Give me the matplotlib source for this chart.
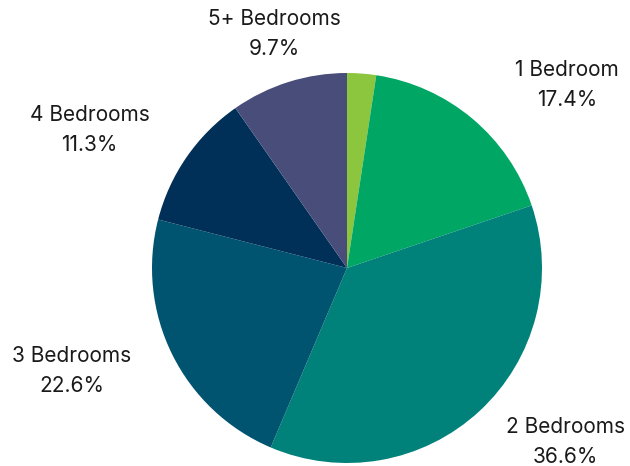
import matplotlib
matplotlib.use('Agg')
import matplotlib.pyplot as plt

# bedroom mix shares (%), first slice is the unlabelled studio share
categories = ['Studio', '1 Bedroom', '2 Bedrooms', '3 Bedrooms', '4 Bedrooms', '5+ Bedrooms']
shares = [2.4, 17.4, 36.6, 22.6, 11.3, 9.7]
show_label = [False, True, True, True, True, True]

colors = ['#8cc63f', '#00a664', '#00827a', '#005470', '#003057', '#484d7a']
# label centres, in units of the pie radius
label_pos = [None, (1.13, 0.94), (1.12, -0.89), (-1.41, -0.53), (-1.32, 0.71), (-0.37, 1.20)]

plt.rcParams['font.family'] = ['Inter', 'DejaVu Sans']

fig = plt.figure(figsize=(6.3, 4.66), dpi=100)
ax = fig.add_axes([0, 0, 1, 1])

r_px = 195.0
cx, cy = 347.0, 198.0
ax.pie(shares, colors=colors, startangle=90, counterclock=False, radius=1,
       wedgeprops=dict(linewidth=0))
ax.set_xlim(-cx / r_px, (630 - cx) / r_px)
ax.set_ylim(-cy / r_px, (466 - cy) / r_px)
ax.set_aspect('equal')
ax.axis('off')

for name, val, show, pos in zip(categories, shares, show_label, label_pos):
    if not show:
        continue
    ax.text(pos[0], pos[1], f'{name}\n{val:.1f}%', ha='center', va='center',
            fontsize=15, color='#1a1a1a', linespacing=1.62)

fig.savefig('out.png', dpi=100)
